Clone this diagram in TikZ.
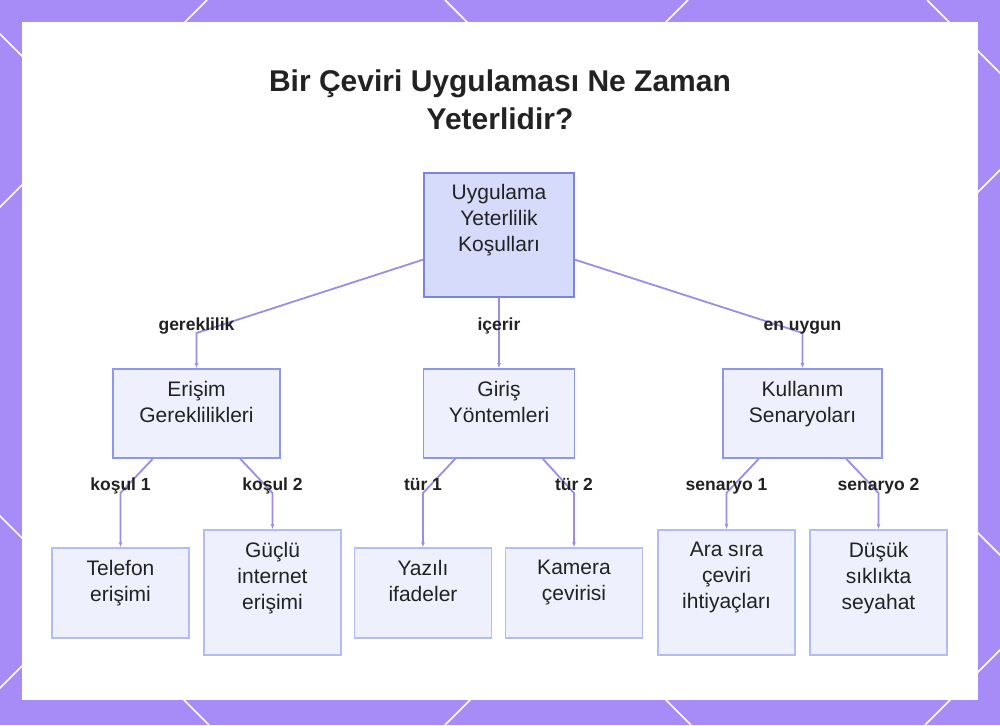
\documentclass[tikz,border=0pt]{standalone}
\usepackage{fontspec}
\setmainfont{Liberation Sans}
\usetikzlibrary{arrows.meta}

\definecolor{bgpurple}{HTML}{A78BF7}
\definecolor{edgecol}{HTML}{A08BE4}
\definecolor{rootfill}{HTML}{D6DBFB}
\definecolor{rootdraw}{HTML}{7B84DF}
\definecolor{boxfill}{HTML}{EEF1FD}
\definecolor{middraw}{HTML}{8F98E8}
\definecolor{leafdraw}{HTML}{B4BCF2}
\definecolor{inkcol}{HTML}{222222}

\begin{document}
\begin{tikzpicture}[x=1pt, y=-1pt]
    \tikzstyle{root} = [draw=rootdraw, fill=rootfill, line width=2pt, inner sep=0pt]
    \tikzstyle{mid} = [draw=middraw, fill=boxfill, line width=1.8pt, inner sep=0pt, minimum height=89pt]
    \tikzstyle{leaf} = [draw=leafdraw, fill=boxfill, line width=1.5pt, inner sep=0pt, minimum width=137pt]
    \tikzstyle{txt} = [anchor=north, yshift=-12.5pt, inner sep=0pt, align=center, text=inkcol, font=\fontsize{21}{26}\selectfont]
    \tikzstyle{lbl} = [anchor=base, yshift=3pt, inner sep=0pt, text=inkcol, font=\fontsize{17.5}{20}\selectfont\bfseries]
    \tikzstyle{link} = [draw=edgecol, line width=1.8pt, -{Latex[length=5pt, width=4pt]}]
    \useasboundingbox (0,0) rectangle (1000,725);
    % frame
    \fill [bgpurple] (0,0) rectangle (1000,725);
    \begin{scope}
      \clip (0,0) rectangle (1000,725);
      \foreach \c in {207, 688, 1170, 1650}
        \draw [white, line width=1.5pt] (\c,0) -- (\c-725,725);
      \foreach \d in {-516, -34, 445, 927}
        \draw [white, line width=1.5pt] (\d,0) -- (\d+725,725);
    \end{scope}
    \fill [white] (22,22) rectangle (978,700);
    % title
    \node (title) [anchor=north, inner sep=0pt, align=center, text=inkcol, font=\fontsize{30}{38}\selectfont\bfseries] at (500,70) {Bir Çeviri Uygulaması Ne Zaman\\Yeterlidir?};
    % boxes
    \node (root) [root, minimum width=150pt, minimum height=124pt] at (499,235) {};
    \node (acc) [mid, minimum width=167pt] at (196.5,413.5) {};
    \node (inp) [mid, minimum width=151pt] at (499,413.5) {};
    \node (use) [mid, minimum width=159pt] at (802.5,413.5) {};
    \node (tel) [leaf, minimum height=90pt] at (120.5,593) {};
    \node (net) [leaf, minimum height=125pt] at (272.5,592.5) {};
    \node (yaz) [leaf, minimum height=90pt] at (423,593) {};
    \node (kam) [leaf, minimum height=90pt] at (574,593) {};
    \node (ara) [leaf, minimum height=125pt] at (726.5,592.5) {};
    \node (dus) [leaf, minimum height=125pt] at (878.5,592.5) {};
    % texts
    \node (root-t) [txt] at (root.north) {Uygulama\\Yeterlilik\\Koşulları};
    \node (acc-t) [txt] at (acc.north) {Erişim\\Gereklilikleri};
    \node (inp-t) [txt] at (inp.north) {Giriş\\Yöntemleri};
    \node (use-t) [txt] at (use.north) {Kullanım\\Senaryoları};
    \node (tel-t) [txt] at (tel.north) {Telefon\\erişimi};
    \node (net-t) [txt] at (net.north) {Güçlü\\internet\\erişimi};
    \node (yaz-t) [txt] at (yaz.north) {Yazılı\\ifadeler};
    \node (kam-t) [txt] at (kam.north) {Kamera\\çevirisi};
    \node (ara-t) [txt] at (ara.north) {Ara sıra\\çeviri\\ihtiyaçları};
    \node (dus-t) [txt] at (dus.north) {Düşük\\sıklıkta\\seyahat};
    % links
    \draw [link] (root.198) -- (acc.north |- 0,333) node[lbl] {gereklilik} -- (acc.north);
    \draw [link] (root.south) -- (inp.north |- 0,333) node[lbl] {içerir} -- (inp.north);
    \draw [link] (root.-18) -- (use.north |- 0,333) node[lbl] {en uygun} -- (use.north);
    \draw [link] (acc.-134) -- (tel.north |- 0,493) node[lbl] {koşul 1} -- (tel.north);
    \draw [link] (acc.-46) -- (net.north |- 0,493) node[lbl] {koşul 2} -- (net.north);
    \draw [link] (inp.-134) -- (yaz.north |- 0,493) node[lbl] {tür 1} -- (yaz.north);
    \draw [link] (inp.-46) -- (kam.north |- 0,493) node[lbl] {tür 2} -- (kam.north);
    \draw [link] (use.-134) -- (ara.north |- 0,493) node[lbl] {senaryo 1} -- (ara.north);
    \draw [link] (use.-46) -- (dus.north |- 0,493) node[lbl] {senaryo 2} -- (dus.north);
\end{tikzpicture}
\end{document}
